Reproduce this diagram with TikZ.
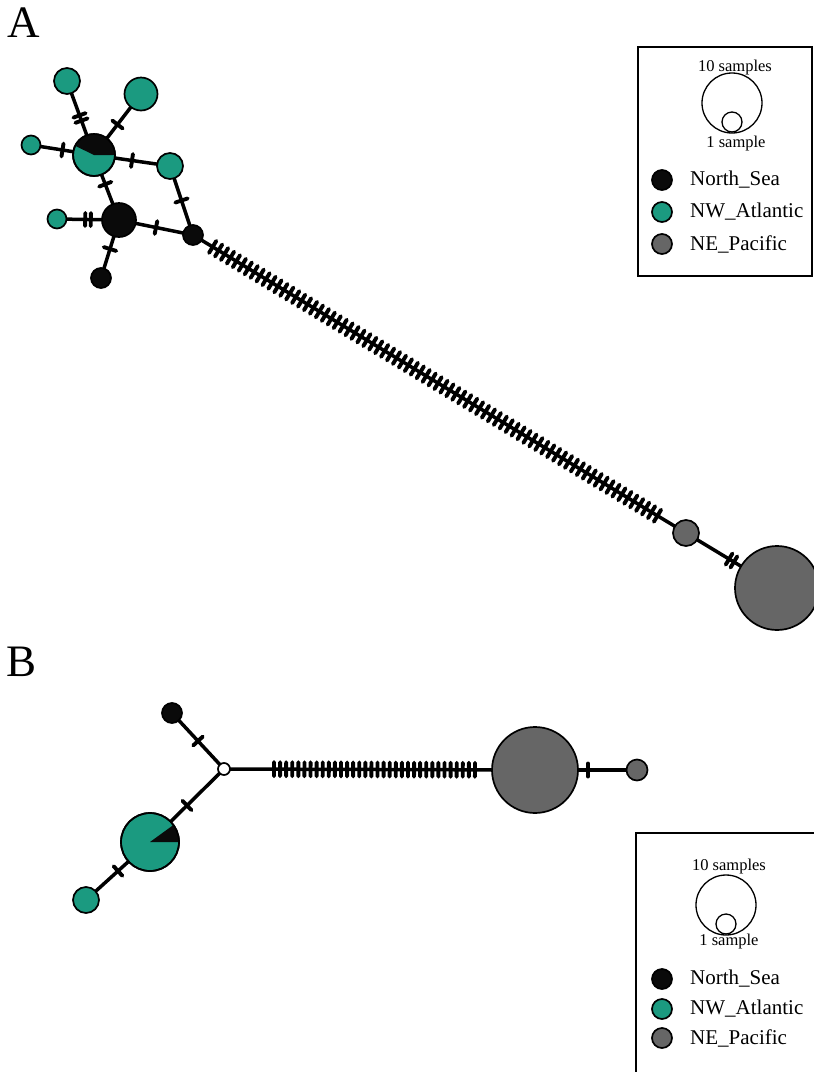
\documentclass[tikz,border=0pt]{standalone}
\usepackage{fontspec}
\setmainfont{Liberation Serif}
\usetikzlibrary{decorations.markings}
\pgfdeclarelayer{background}
\pgfsetlayers{background,main}

\definecolor{nwteal}{RGB}{27,154,128}
\definecolor{negray}{RGB}{102,102,102}
\definecolor{nsblack}{RGB}{10,10,10}

\newcommand{\legfont}{\fontsize{21}{24}\selectfont}
\newcommand{\smpfont}{\fontsize{16.5}{19}\selectfont}

\tikzset{
  hap/.style={circle, draw=black, line width=1.7pt, inner sep=0pt, minimum size=2*#1 pt},
  ns/.style={hap=#1, fill=nsblack},
  nw/.style={hap=#1, fill=nwteal},
  ne/.style={hap=#1, fill=negray},
  link/.style={line width=3.5pt},
  hatch/.style={line width=3.9pt, line cap=round},
  tick/.style={postaction={decorate, decoration={markings,
      mark=at position #1 with {\draw[hatch] (0,-6.5) -- (0,6.5);}}}},
  tick/.default=0.5,
  twotick/.style={postaction={decorate, decoration={markings,
      mark=at position #1 with {\draw[hatch] (-2.8,-6.5) -- (-2.8,6.5) (2.8,-6.5) -- (2.8,6.5);}}}},
  twotick/.default=0.5,
  ticks/.style n args={3}{postaction={decorate, decoration={markings,
      mark=between positions #1 and #2 step #3 with {\draw[hatch] (0,-7) -- (0,7);}}}},
}

\begin{document}
\begin{tikzpicture}[x=1pt,y=-1pt]
\useasboundingbox (0,0) rectangle (814,1072);

% panel labels
\node[font=\fontsize{45}{50}\selectfont] (labA) at (24,23) {A};
\node[font=\fontsize{45}{50}\selectfont] (labB) at (22,662) {B};

% ---- network A
\node[nw=13] (tA1) at (67,81) {};
\node[nw=16.5] (tA2) at (141,94) {};
\node[nw=9.5] (tA3) at (31,145) {};
\node[nw=21] (pA) at (94,155) {};
\fill[nsblack] (pA.center) -- ++(0:21) arc[start angle=0, end angle=-154, radius=21] -- cycle;
\draw[line width=1.7pt] (pA.center) circle[radius=21];
\node[nw=13] (tA4) at (170,166) {};
\node[ns=17] (bA1) at (119,220) {};
\node[nw=9.5] (tA5) at (57,219) {};
\node[ns=10] (bA2) at (101,278) {};
\node[ns=10] (jA) at (193,235) {};
\node[ne=13] (gA1) at (686,533) {};
\node[ne=42] (gA2) at (777,588) {};

\begin{pgfonlayer}{background}
\draw[link, twotick] (pA.center) -- (tA1.center);
\draw[link, tick] (pA.center) -- (tA2.center);
\draw[link, tick] (pA.center) -- (tA3.center);
\draw[link, tick] (pA.center) -- (tA4.center);
\draw[link, tick=0.45] (pA.center) -- (bA1.center);
\draw[link, twotick] (bA1.center) -- (tA5.center);
\draw[link, tick] (bA1.center) -- (bA2.center);
\draw[link, tick] (bA1.center) -- (jA.center);
\draw[link, tick] (tA4.center) -- (jA.center);
\draw[link, ticks={23pt}{-32pt}{6.93pt}] (jA.center) -- (gA1.center);
\draw[link, twotick] (gA1.center) -- (gA2.center);
\end{pgfonlayer}

% ---- network B
\node[ns=10] (bB) at (172,713) {};
\node[hap=6, fill=white] (jB) at (224,769) {};
\node[nw=29] (pB) at (150,842) {};
\fill[nsblack] (pB.center) -- ++(0:29) arc[start angle=0, end angle=-36, radius=29] -- cycle;
\draw[line width=1.7pt] (pB.center) circle[radius=29];
\node[nw=13] (tB) at (86,900) {};
\node[ne=43] (gB) at (535,770) {};
\node[ne=10.5] (sB) at (637,770) {};

\begin{pgfonlayer}{background}
\draw[link, tick] (jB.center) -- (bB.center);
\draw[link, tick] (jB.center) -- (pB.center);
\draw[link, tick] (pB.center) -- (tB.center);
\draw[link, ticks={50pt}{-60pt}{6.09pt}] (jB.center) -- (gB.center);
\draw[link, tick=0.52] (gB.center) -- (sB.center);
\end{pgfonlayer}

% ---- legends
\draw[line width=1.5pt] (638,47) rectangle (812,276);
\node[font=\smpfont] (tenA) at (735,68) {10 samples};
\node[hap=30, line width=1.3pt] (bigA) at (732,103) {};
\node[hap=10, line width=1.3pt] (oneA) at (732,122) {};
\node[font=\smpfont] (smpA) at (736,144) {1 sample};
\foreach \y/\c/\t [count=\i] in {180/ns/North\_Sea, 212/nw/NW\_Atlantic, 244/ne/NE\_Pacific}
  \node[\c=10] (kA\i) at (662,\y) {}
    node[anchor=west, inner sep=0pt, font=\legfont] (kAt\i) at (690,\y) {\t};

\draw[line width=1.5pt] (636,1085) -- (636,833) -- (820,833);
\node[font=\smpfont] (tenB) at (729,867) {10 samples};
\node[hap=30, line width=1.3pt] (bigB) at (726,905) {};
\node[hap=10, line width=1.3pt] (oneB) at (726,924) {};
\node[font=\smpfont] (smpB) at (729,942) {1 sample};
\foreach \y/\c/\t [count=\i] in {979/ns/North\_Sea, 1009/nw/NW\_Atlantic, 1038/ne/NE\_Pacific}
  \node[\c=10] (kB\i) at (662,\y) {}
    node[anchor=west, inner sep=0pt, font=\legfont] (kBt\i) at (690,\y) {\t};
\end{tikzpicture}
\end{document}
